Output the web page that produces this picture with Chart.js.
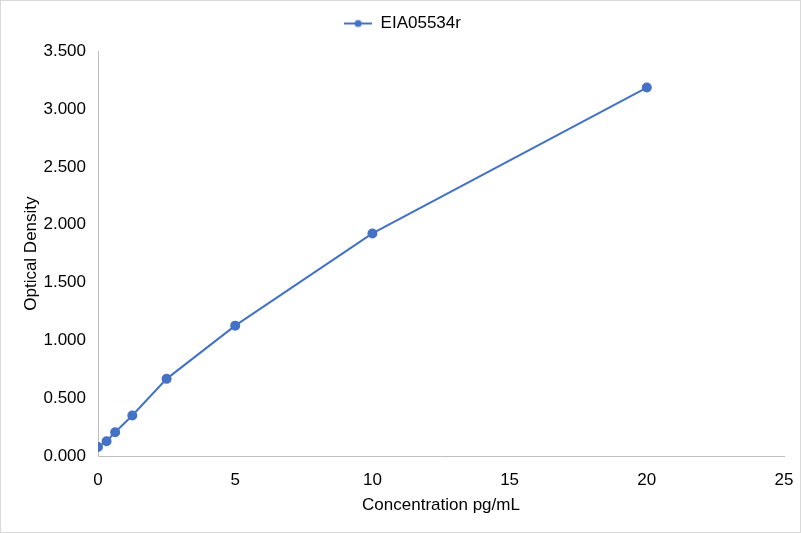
<!DOCTYPE html>
<html>
<head>
<meta charset="utf-8">
<script src="https://cdn.jsdelivr.net/npm/chart.js@4/dist/chart.umd.min.js"></script>
<style>
html,body{margin:0;padding:0;background:#fff;}
#wrap{width:801px;height:533px;position:relative;}
</style>
</head>
<body>
<div id="wrap"><canvas id="c" width="801" height="533"></canvas></div>
<script>
const seriesName = 'EIA05534r';
const concentrations = [0, 0.3125, 0.625, 1.25, 2.5, 5, 10, 20];
const opticalDensity = [0.078, 0.127, 0.205, 0.350, 0.667, 1.127, 1.924, 3.186];
const xTitle = 'Concentration pg/mL';
const yTitle = 'Optical Density';

const BLUE = '#4472C4';
const FONT = "'Liberation Sans', Arial, sans-serif";
const FS = 17;

const legendIcon = document.createElement('canvas');
legendIcon.width = 28; legendIcon.height = 10;
(function(){
  const g = legendIcon.getContext('2d');
  g.strokeStyle = BLUE; g.lineWidth = 2;
  g.beginPath(); g.moveTo(0,5); g.lineTo(28,5); g.stroke();
  g.fillStyle = BLUE; g.beginPath(); g.arc(14,5,3.5,0,Math.PI*2); g.fill();
})();

const borderPlugin = {
  id: 'outerBorder',
  afterDraw(chart){
    const ctx = chart.ctx;
    ctx.save();
    ctx.strokeStyle = '#d9d9d9';
    ctx.lineWidth = 1;
    ctx.strokeRect(0.5, 0.5, chart.width-1, chart.height-1);
    ctx.restore();
  }
};

const points = concentrations.map((x,i)=>({x:x, y:opticalDensity[i]}));

new Chart(document.getElementById('c'), {
  type: 'line',
  data: {
    datasets: [{
      label: seriesName,
      data: points,
      borderColor: BLUE,
      backgroundColor: BLUE,
      borderWidth: 2,
      pointRadius: 4,
      pointHoverRadius: 4,
      pointBackgroundColor: BLUE,
      pointBorderColor: BLUE,
      tension: 0,
      fill: false
    }]
  },
  options: {
    responsive: false,
    animation: false,
    devicePixelRatio: 1,
    layout: { padding: { left: 21, right: 17, top: -6, bottom: 17 } },
    plugins: {
      tooltip: { enabled: false },
      title: {
        display: true,
        text: '',
        weight: 500,
        position: 'top',
        font: { size: 1 },
        padding: { top: 0, bottom: 8 }
      },
      legend: {
        position: 'top',
        labels: {
          usePointStyle: true,
          pointStyle: legendIcon,
          pointStyleWidth: 28,
          color: '#000',
          font: { family: FONT, size: FS },
          padding: 21
        }
      }
    },
    scales: {
      x: {
        type: 'linear',
        min: 0, max: 25,
        ticks: { stepSize: 5, color: '#000', font: { family: FONT, size: FS }, padding: 14 },
        grid: { display: false, drawTicks: false },
        border: { display: true, color: '#bfbfbf', width: 1 },
        title: { display: true, text: xTitle, color: '#000', font: { family: FONT, size: FS }, padding: { top: 4, bottom: 0 } },
        afterFit(s){ s.height = 60; s.paddingRight = 0; s.paddingLeft = 0; }
      },
      y: {
        type: 'linear',
        min: 0, max: 3.5,
        ticks: {
          stepSize: 0.5, color: '#000', font: { family: FONT, size: FS }, padding: 12,
          callback: v => Number(v).toFixed(3)
        },
        grid: { display: false, drawTicks: false },
        border: { display: true, color: '#bfbfbf', width: 1 },
        title: { display: true, text: yTitle, color: '#000', font: { family: FONT, size: FS }, padding: { top: 0, bottom: 0 } },
        afterFit(s){ s.width = 77; s.paddingTop = 0; s.paddingBottom = 0; }
      }
    }
  },
  plugins: [borderPlugin]
});
</script>
</body>
</html>
